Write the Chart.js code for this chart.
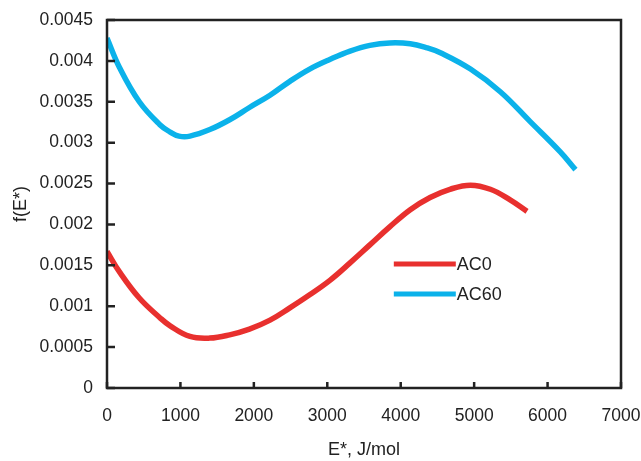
<!DOCTYPE html>
<html>
<head>
<meta charset="utf-8">
<script src="https://cdn.jsdelivr.net/npm/chart.js@4"></script>
<style>
  html, body { margin: 0; padding: 0; background: #fff; }
  #wrap { width: 641px; height: 461px; }
</style>
</head>
<body>
<div id="wrap"><canvas id="fChart"></canvas></div>
<script>
// series
const seriesNames = ['AC0', 'AC60'];
const eAC0 = [0, 170, 440, 720, 860, 1130, 1400, 1670, 1940, 2220, 2490, 2760, 3040, 3310, 3580, 3850, 4130, 4400, 4670, 4950, 5220, 5490, 5720];
const fAC0 = [0.00167, 0.00142, 0.0011, 0.00086, 0.00076, 0.00063, 0.00061, 0.00065, 0.00072, 0.00083, 0.00098, 0.00114, 0.00132, 0.00153, 0.00175, 0.00197, 0.00218, 0.00233, 0.00243, 0.00248, 0.00243, 0.0023, 0.00216];
const eAC60 = [0, 170, 440, 720, 860, 980, 1130, 1400, 1670, 1940, 2220, 2490, 2760, 3040, 3310, 3580, 3850, 4130, 4360, 4540, 4950, 5360, 5760, 6170, 6380];
const fAC60 = [0.00428, 0.00392, 0.0035, 0.00322, 0.00313, 0.00308, 0.00308, 0.00316, 0.00328, 0.00343, 0.00358, 0.00375, 0.0039, 0.00402, 0.00412, 0.00419, 0.00422, 0.00421, 0.00416, 0.0041, 0.0039, 0.00362, 0.00326, 0.00289, 0.00267];
const xTickStep = 1000, xMax = 7000;
const yTickStep = 0.0005, yMax = 0.0045;

const colors = ['#e8302e', '#0bb2ea'];
const FONT = 'Arial, "Liberation Sans", sans-serif';

const toPoints = (xs, ys) => xs.map((x, i) => ({ x: x, y: ys[i] }));

// box + inner tick marks + legend inside the plot
const frame = {
    id: 'frame',
    afterDraw(chart) {
        const { ctx, chartArea: a, scales } = chart;
        ctx.save();
        ctx.strokeStyle = '#222';
        ctx.lineWidth = 2.5;
        ctx.beginPath();
        scales.x.ticks.forEach(t => {
            const px = scales.x.getPixelForValue(t.value);
            ctx.moveTo(px, a.bottom);
            ctx.lineTo(px, a.bottom - 6);
        });
        scales.y.ticks.forEach(t => {
            const py = scales.y.getPixelForValue(t.value);
            ctx.moveTo(a.left, py);
            ctx.lineTo(a.left + 8, py);
        });
        ctx.stroke();
        ctx.strokeRect(a.left, a.top, a.right - a.left, a.bottom - a.top);

        // legend
        const lx = a.left + (a.right - a.left) * 0.558;
        const ly = a.top + (a.bottom - a.top) * 0.663;
        chart.data.datasets.forEach((ds, i) => {
            const y = ly + i * 30;
            ctx.strokeStyle = ds.borderColor;
            ctx.lineWidth = 5;
            ctx.beginPath();
            ctx.moveTo(lx, y);
            ctx.lineTo(lx + 62, y);
            ctx.stroke();
            ctx.fillStyle = '#222';
            ctx.font = '18px ' + FONT;
            ctx.textBaseline = 'middle';
            ctx.fillText(ds.label, lx + 63, y + 1);
        });
        ctx.restore();
    }
};

new Chart(document.getElementById('fChart'), {
    type: 'line',
    data: {
        datasets: [
            {
                label: seriesNames[0],
                data: toPoints(eAC0, fAC0),
                borderColor: colors[0],
                borderWidth: 5.5,
                tension: 0.4,
                pointRadius: 0,
                fill: false
            },
            {
                label: seriesNames[1],
                data: toPoints(eAC60, fAC60),
                borderColor: colors[1],
                borderWidth: 5.5,
                tension: 0.4,
                pointRadius: 0,
                fill: false
            }
        ]
    },
    options: {
        responsive: true,
        maintainAspectRatio: false,
        animation: false,
        layout: { padding: 0 },
        plugins: {
            legend: { display: false },
            tooltip: { enabled: false }
        },
        scales: {
            x: {
                type: 'linear',
                min: 0,
                max: xMax,
                grid: { display: false, drawTicks: false },
                border: { display: false },
                ticks: {
                    stepSize: xTickStep,
                    padding: 18,
                    color: '#222',
                    font: { family: FONT, size: 17.5 },
                    callback: v => String(v)
                },
                title: {
                    display: true,
                    text: 'E*, J/mol',
                    color: '#222',
                    font: { family: FONT, size: 18 },
                    padding: { top: 0, bottom: 0 }
                },
                afterFit: s => { s.height = 73; s.paddingRight = 20; s.paddingLeft = 0; }
            },
            y: {
                min: 0,
                max: yMax,
                grid: { display: false, drawTicks: false },
                border: { display: false },
                ticks: {
                    stepSize: yTickStep,
                    padding: 14,
                    color: '#222',
                    font: { family: FONT, size: 17.5 },
                    callback: v => String(+v.toFixed(4))
                },
                title: {
                    display: true,
                    text: 'f(E*)',
                    color: '#222',
                    font: { family: FONT, size: 18 },
                    padding: { top: 10, bottom: 0 }
                },
                afterFit: s => { s.width = 107; s.paddingTop = 20; s.paddingBottom = 0; }
            }
        }
    },
    plugins: [frame]
});
</script>
</body>
</html>
